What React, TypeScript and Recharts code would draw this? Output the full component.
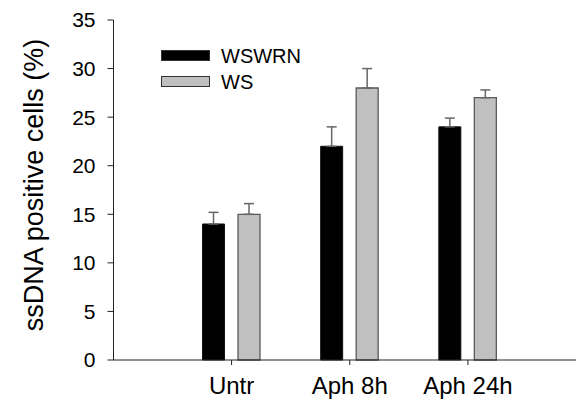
import React from 'react'
import { BarChart, Bar, XAxis, YAxis, Legend, ErrorBar, Label } from 'recharts'

// values
const categories = ['Untr', 'Aph 8h', 'Aph 24h']
const seriesNames = ['WSWRN', 'WS']
const wswrnValues = [14, 22, 24]
const wsValues = [15, 28, 27]
const wswrnErrors = [1.2, 2.0, 0.9]
const wsErrors = [1.1, 2.0, 0.8]
const yTicks = [0, 5, 10, 15, 20, 25, 30, 35]

const FONT = '"Liberation Sans", Arial, Helvetica, sans-serif'

const chartData = categories.map((name, i) => ({
    name,
    wswrn: wswrnValues[i],
    ws: wsValues[i],
    // upper-only error bars: [below, above]
    wswrnErr: [0, wswrnErrors[i]],
    wsErr: [0, wsErrors[i]],
}))

const renderLegend = (props: any) => {
    // keep series order (legend sorts by name otherwise)
    const items = [...(props.payload || [])].sort(
        (a: any, b: any) => seriesNames.indexOf(a.value) - seriesNames.indexOf(b.value)
    )
    return (
        <div style={{ fontFamily: FONT }}>
            {items.map((entry: any) => (
                <div key={entry.value} style={{ display: 'flex', alignItems: 'center', height: 25.7 }}>
                    <svg width={50} height={12} style={{ display: 'block' }}>
                        <rect x={0.5} y={0.5} width={48} height={10} fill={entry.color} stroke="#333" strokeWidth={1} />
                    </svg>
                    <span style={{ marginLeft: 10, fontSize: 20, color: '#000', lineHeight: '20px' }}>{entry.value}</span>
                </div>
            ))}
        </div>
    )
}

const renderYLabel = () => (
    <text
        x={34}
        y={185}
        transform="rotate(-90, 34, 185)"
        textAnchor="middle"
        dominantBaseline="central"
        fontSize={27}
        fontFamily={FONT}
        fill="#000"
    >
        ssDNA positive cells (%)
    </text>
)

export default function App() {
    return (
        <div style={{ position: 'absolute', left: 0, top: 0, background: '#fff' }}>
            <BarChart
                width={576}
                height={409}
                data={chartData}
                margin={{ top: 20, right: 0, bottom: 19, left: 0 }}
                barSize={22}
                barGap={13.5}
            >
                <XAxis
                    dataKey="name"
                    padding={{ left: 59, right: 49 }}
                    interval={0}
                    tickSize={5}
                    tickMargin={12}
                    stroke="#222"
                    tick={{ fill: '#000', fontSize: 24, fontFamily: FONT }}
                />
                <YAxis
                    width={113.5}
                    domain={[0, 35]}
                    ticks={yTicks}
                    tickSize={6}
                    tickMargin={12}
                    stroke="#222"
                    interval={0}
                    tick={{ fill: '#000', fontSize: 21, fontFamily: FONT }}
                >
                    <Label content={renderYLabel} />
                </YAxis>
                <Legend
                    content={renderLegend}
                    layout="horizontal"
                    verticalAlign="middle"
                    align="center"
                    wrapperStyle={{ left: 161, top: 43, width: 'auto' }}
                />
                <Bar dataKey="wswrn" name="WSWRN" fill="#000000" stroke="#111" strokeWidth={1} isAnimationActive={false}>
                    <ErrorBar dataKey="wswrnErr" width={5} stroke="#666" strokeWidth={1.5} isAnimationActive={false} />
                </Bar>
                <Bar dataKey="ws" name="WS" fill="#c0c0c0" stroke="#5a5a5a" strokeWidth={1.3} isAnimationActive={false}>
                    <ErrorBar dataKey="wsErr" width={5} stroke="#666" strokeWidth={1.5} isAnimationActive={false} />
                </Bar>
            </BarChart>
        </div>
    )
}
